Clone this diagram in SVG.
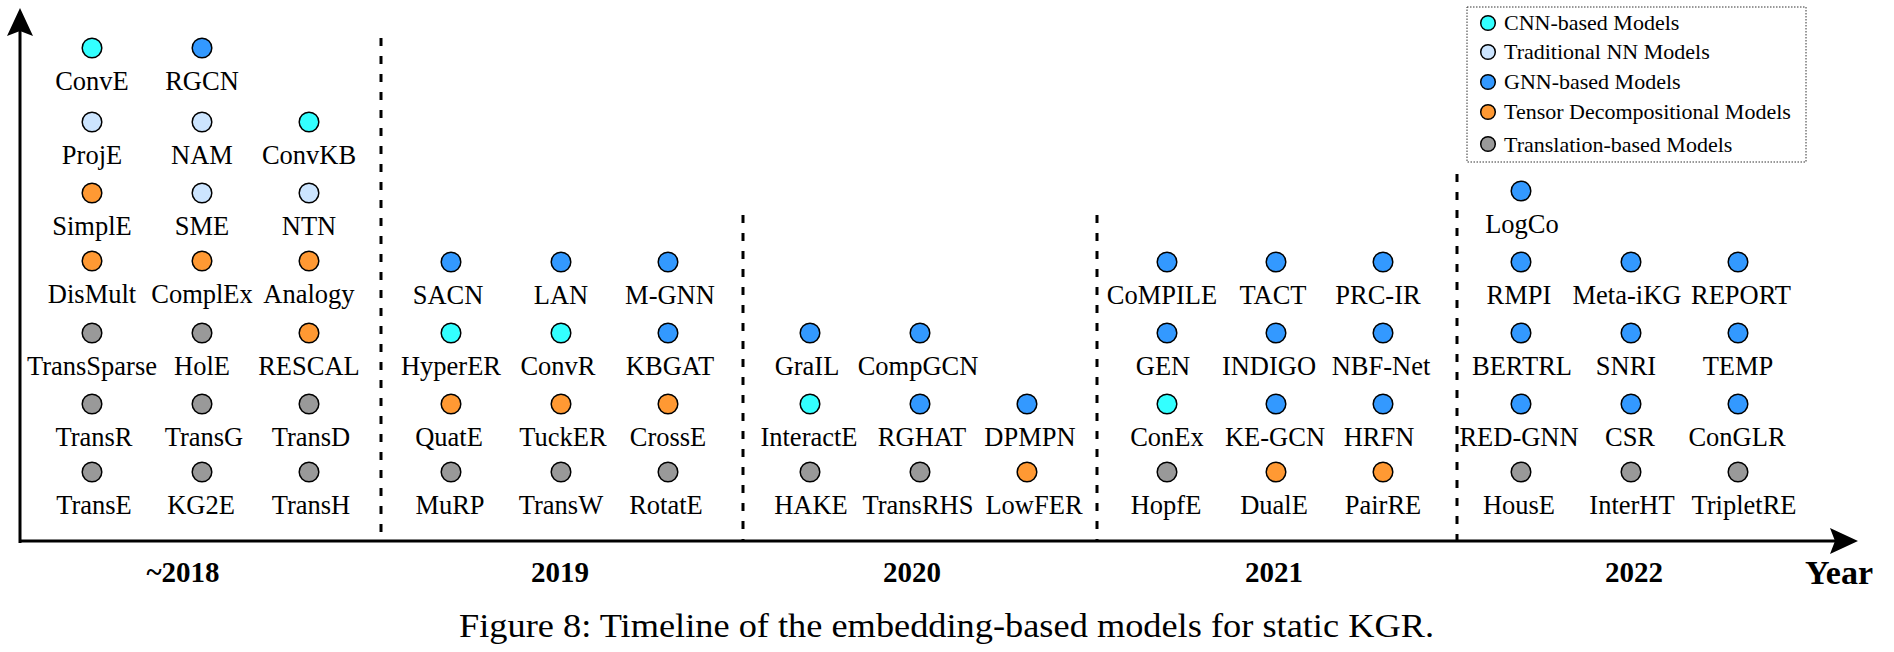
<svg xmlns="http://www.w3.org/2000/svg" width="1894" height="652" viewBox="0 0 1894 652">
<style>
.n{stroke:#000;stroke-width:1.5}
.cnn{fill:#33FFFF}.trad{fill:#CCE5FF}.gnn{fill:#3399FF}.ten{fill:#FF9933}.tr{fill:#999999}
.t{font-family:"Liberation Serif","Times New Roman",serif;font-size:26.5px;fill:#000;text-anchor:middle}
.yr{font-family:"Liberation Serif","Times New Roman",serif;font-size:29px;font-weight:bold;fill:#000;text-anchor:middle}
.lg{font-family:"Liberation Serif","Times New Roman",serif;font-size:22px;fill:#000}
.dash{stroke:#000;stroke-width:3;stroke-dasharray:8 10;fill:none}
.ax{stroke:#000;stroke-width:3;fill:none}
</style>
<rect width="1894" height="652" fill="#fff"/>
<g id="connectors">
<line class="ax" x1="20" y1="543" x2="20" y2="30"/>
<path d="M20,8 L33,36 L20,31 L7,36 Z" fill="#000"/>
<line class="ax" x1="19" y1="541" x2="1836" y2="541"/>
<path d="M1858,541 L1830,554 L1835,541 L1830,528 Z" fill="#000"/>
<line class="dash" x1="381" y1="38" x2="381" y2="541"/>
<line class="dash" x1="743" y1="215" x2="743" y2="541"/>
<line class="dash" x1="1097" y1="215" x2="1097" y2="541"/>
<line class="dash" x1="1457" y1="174" x2="1457" y2="541"/>
</g>
<g id="legend">
<rect x="1467" y="7" width="339" height="155" fill="none" stroke="#333" stroke-width="1" stroke-dasharray="1.5 1.5"/>
<circle class="n cnn" cx="1488" cy="23" r="7.3"/><text class="lg" x="1504" y="30">CNN-based Models</text>
<circle class="n trad" cx="1488" cy="52" r="7.3"/><text class="lg" x="1504" y="59">Traditional NN Models</text>
<circle class="n gnn" cx="1488" cy="82" r="7.3"/><text class="lg" x="1504" y="89">GNN-based Models</text>
<circle class="n ten" cx="1488" cy="112" r="7.3"/><text class="lg" x="1504" y="119">Tensor Decompositional Models</text>
<circle class="n tr" cx="1488" cy="144" r="7.3"/><text class="lg" x="1504" y="152">Translation-based Models</text>
</g>
<!-- ~2018 -->
<g id="ConvE"><circle class="n cnn" cx="92" cy="48" r="9.8"/><text class="t" x="92" y="90">ConvE</text></g>
<g id="RGCN"><circle class="n gnn" cx="202" cy="48" r="9.8"/><text class="t" x="202" y="90">RGCN</text></g>
<g id="ProjE"><circle class="n trad" cx="92" cy="122" r="9.8"/><text class="t" x="92" y="164">ProjE</text></g>
<g id="NAM"><circle class="n trad" cx="202" cy="122" r="9.8"/><text class="t" x="202" y="164">NAM</text></g>
<g id="ConvKB"><circle class="n cnn" cx="309" cy="122" r="9.8"/><text class="t" x="309" y="164">ConvKB</text></g>
<g id="SimplE"><circle class="n ten" cx="92" cy="193" r="9.8"/><text class="t" x="92" y="235">SimplE</text></g>
<g id="SME"><circle class="n trad" cx="202" cy="193" r="9.8"/><text class="t" x="202" y="235">SME</text></g>
<g id="NTN"><circle class="n trad" cx="309" cy="193" r="9.8"/><text class="t" x="309" y="235">NTN</text></g>
<g id="DisMult"><circle class="n ten" cx="92" cy="261" r="9.8"/><text class="t" x="92" y="303">DisMult</text></g>
<g id="ComplEx"><circle class="n ten" cx="202" cy="261" r="9.8"/><text class="t" x="202" y="303">ComplEx</text></g>
<g id="Analogy"><circle class="n ten" cx="309" cy="261" r="9.8"/><text class="t" x="309" y="303">Analogy</text></g>
<g id="TransSparse"><circle class="n tr" cx="92" cy="333" r="9.8"/><text class="t" x="92" y="375">TransSparse</text></g>
<g id="HolE"><circle class="n tr" cx="202" cy="333" r="9.8"/><text class="t" x="202" y="375">HolE</text></g>
<g id="RESCAL"><circle class="n ten" cx="309" cy="333" r="9.8"/><text class="t" x="309" y="375">RESCAL</text></g>
<g id="TransR"><circle class="n tr" cx="92" cy="404" r="9.8"/><text class="t" x="94" y="446">TransR</text></g>
<g id="TransG"><circle class="n tr" cx="202" cy="404" r="9.8"/><text class="t" x="204" y="446">TransG</text></g>
<g id="TransD"><circle class="n tr" cx="309" cy="404" r="9.8"/><text class="t" x="311" y="446">TransD</text></g>
<g id="TransE"><circle class="n tr" cx="92" cy="472" r="9.8"/><text class="t" x="94" y="514">TransE</text></g>
<g id="KG2E"><circle class="n tr" cx="202" cy="472" r="9.8"/><text class="t" x="201" y="514">KG2E</text></g>
<g id="TransH"><circle class="n tr" cx="309" cy="472" r="9.8"/><text class="t" x="311" y="514">TransH</text></g>
<!-- 2019 -->
<g id="SACN"><circle class="n gnn" cx="451" cy="262" r="9.8"/><text class="t" x="448" y="304">SACN</text></g>
<g id="LAN"><circle class="n gnn" cx="561" cy="262" r="9.8"/><text class="t" x="561" y="304">LAN</text></g>
<g id="M-GNN"><circle class="n gnn" cx="668" cy="262" r="9.8"/><text class="t" x="670" y="304">M-GNN</text></g>
<g id="HyperER"><circle class="n cnn" cx="451" cy="333" r="9.8"/><text class="t" x="451" y="375">HyperER</text></g>
<g id="ConvR"><circle class="n cnn" cx="561" cy="333" r="9.8"/><text class="t" x="558" y="375">ConvR</text></g>
<g id="KBGAT"><circle class="n gnn" cx="668" cy="333" r="9.8"/><text class="t" x="670" y="375">KBGAT</text></g>
<g id="QuatE"><circle class="n ten" cx="451" cy="404" r="9.8"/><text class="t" x="449" y="446">QuatE</text></g>
<g id="TuckER"><circle class="n ten" cx="561" cy="404" r="9.8"/><text class="t" x="563" y="446">TuckER</text></g>
<g id="CrossE"><circle class="n ten" cx="668" cy="404" r="9.8"/><text class="t" x="668" y="446">CrossE</text></g>
<g id="MuRP"><circle class="n tr" cx="451" cy="472" r="9.8"/><text class="t" x="450" y="514">MuRP</text></g>
<g id="TransW"><circle class="n tr" cx="561" cy="472" r="9.8"/><text class="t" x="561" y="514">TransW</text></g>
<g id="RotatE"><circle class="n tr" cx="668" cy="472" r="9.8"/><text class="t" x="666" y="514">RotatE</text></g>
<!-- 2020 -->
<g id="GraIL"><circle class="n gnn" cx="810" cy="333" r="9.8"/><text class="t" x="807" y="375">GraIL</text></g>
<g id="CompGCN"><circle class="n gnn" cx="920" cy="333" r="9.8"/><text class="t" x="918" y="375">CompGCN</text></g>
<g id="InteractE"><circle class="n cnn" cx="810" cy="404" r="9.8"/><text class="t" x="809" y="446">InteractE</text></g>
<g id="RGHAT"><circle class="n gnn" cx="920" cy="404" r="9.8"/><text class="t" x="922" y="446">RGHAT</text></g>
<g id="DPMPN"><circle class="n gnn" cx="1027" cy="404" r="9.8"/><text class="t" x="1030" y="446">DPMPN</text></g>
<g id="HAKE"><circle class="n tr" cx="810" cy="472" r="9.8"/><text class="t" x="811" y="514">HAKE</text></g>
<g id="TransRHS"><circle class="n tr" cx="920" cy="472" r="9.8"/><text class="t" x="918" y="514">TransRHS</text></g>
<g id="LowFER"><circle class="n ten" cx="1027" cy="472" r="9.8"/><text class="t" x="1034" y="514">LowFER</text></g>
<!-- 2021 -->
<g id="CoMPILE"><circle class="n gnn" cx="1167" cy="262" r="9.8"/><text class="t" x="1162" y="304">CoMPILE</text></g>
<g id="TACT"><circle class="n gnn" cx="1276" cy="262" r="9.8"/><text class="t" x="1273" y="304">TACT</text></g>
<g id="PRC-IR"><circle class="n gnn" cx="1383" cy="262" r="9.8"/><text class="t" x="1378" y="304">PRC-IR</text></g>
<g id="GEN"><circle class="n gnn" cx="1167" cy="333" r="9.8"/><text class="t" x="1163" y="375">GEN</text></g>
<g id="INDIGO"><circle class="n gnn" cx="1276" cy="333" r="9.8"/><text class="t" x="1269" y="375">INDIGO</text></g>
<g id="NBF-Net"><circle class="n gnn" cx="1383" cy="333" r="9.8"/><text class="t" x="1381" y="375">NBF-Net</text></g>
<g id="ConEx"><circle class="n cnn" cx="1167" cy="404" r="9.8"/><text class="t" x="1167" y="446">ConEx</text></g>
<g id="KE-GCN"><circle class="n gnn" cx="1276" cy="404" r="9.8"/><text class="t" x="1275" y="446">KE-GCN</text></g>
<g id="HRFN"><circle class="n gnn" cx="1383" cy="404" r="9.8"/><text class="t" x="1379" y="446">HRFN</text></g>
<g id="HopfE"><circle class="n tr" cx="1167" cy="472" r="9.8"/><text class="t" x="1166" y="514">HopfE</text></g>
<g id="DualE"><circle class="n ten" cx="1276" cy="472" r="9.8"/><text class="t" x="1274" y="514">DualE</text></g>
<g id="PairRE"><circle class="n ten" cx="1383" cy="472" r="9.8"/><text class="t" x="1383" y="514">PairRE</text></g>
<!-- 2022 -->
<g id="LogCo"><circle class="n gnn" cx="1521" cy="191" r="9.8"/><text class="t" x="1522" y="233">LogCo</text></g>
<g id="RMPI"><circle class="n gnn" cx="1521" cy="262" r="9.8"/><text class="t" x="1519" y="304">RMPI</text></g>
<g id="Meta-iKG"><circle class="n gnn" cx="1631" cy="262" r="9.8"/><text class="t" x="1627" y="304">Meta-iKG</text></g>
<g id="REPORT"><circle class="n gnn" cx="1738" cy="262" r="9.8"/><text class="t" x="1741" y="304">REPORT</text></g>
<g id="BERTRL"><circle class="n gnn" cx="1521" cy="333" r="9.8"/><text class="t" x="1522" y="375">BERTRL</text></g>
<g id="SNRI"><circle class="n gnn" cx="1631" cy="333" r="9.8"/><text class="t" x="1626" y="375">SNRI</text></g>
<g id="TEMP"><circle class="n gnn" cx="1738" cy="333" r="9.8"/><text class="t" x="1738" y="375">TEMP</text></g>
<g id="RED-GNN"><circle class="n gnn" cx="1521" cy="404" r="9.8"/><text class="t" x="1519" y="446">RED-GNN</text></g>
<g id="CSR"><circle class="n gnn" cx="1631" cy="404" r="9.8"/><text class="t" x="1630" y="446">CSR</text></g>
<g id="ConGLR"><circle class="n gnn" cx="1738" cy="404" r="9.8"/><text class="t" x="1737" y="446">ConGLR</text></g>
<g id="HousE"><circle class="n tr" cx="1521" cy="472" r="9.8"/><text class="t" x="1519" y="514">HousE</text></g>
<g id="InterHT"><circle class="n tr" cx="1631" cy="472" r="9.8"/><text class="t" x="1632" y="514">InterHT</text></g>
<g id="TripletRE"><circle class="n tr" cx="1738" cy="472" r="9.8"/><text class="t" x="1744" y="514">TripletRE</text></g>
<g id="years">
<text class="yr" x="183" y="582">~2018</text>
<text class="yr" x="560" y="582">2019</text>
<text class="yr" x="912" y="582">2020</text>
<text class="yr" x="1274" y="582">2021</text>
<text class="yr" x="1634" y="582">2022</text>
<text x="1805" y="584" font-family="Liberation Serif,Times New Roman,serif" font-size="34" font-weight="bold" fill="#000">Year</text>
</g>
<text x="459" y="637" font-family="Liberation Serif,Times New Roman,serif" font-size="34" fill="#000" textLength="975" lengthAdjust="spacingAndGlyphs">Figure 8: Timeline of the embedding-based models for static KGR.</text>
</svg>
